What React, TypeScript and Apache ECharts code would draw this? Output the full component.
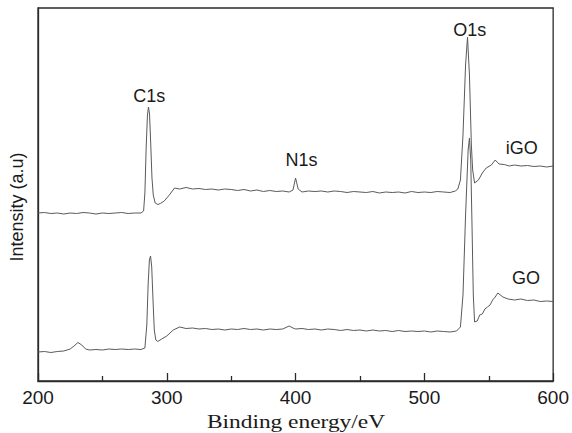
import React, { useEffect, useRef } from "react";
import * as echarts from "echarts";

// Binding energy (eV) and intensity (arbitrary units) for iGO
const igoEnergy = [
  200, 205, 210, 215, 220, 225, 230, 235, 240, 245, 250, 255, 260, 265, 270, 275, 280, 282, 283, 284,
  285, 285.8, 286.6, 287.5, 288.5, 289.5, 291, 293, 295, 298, 302, 306, 310, 315, 320, 325, 330, 335, 340, 345,
  350, 355, 360, 365, 370, 375, 380, 385, 390, 395, 398, 400, 402, 405, 410, 415, 420, 425, 430, 435,
  440, 445, 450, 455, 460, 465, 470, 475, 480, 485, 490, 495, 500, 505, 510, 515, 520, 524, 526, 528,
  530, 532, 533.5, 535, 536.5, 537.5, 539, 542, 545, 548, 552, 555, 558, 562, 566, 570, 575, 580, 585, 590,
  595, 600,
];
const igoIntensity = [
  172, 172.5, 171.5, 172, 171, 172, 171.5, 172.5, 172, 171, 172, 171.5, 172, 172.5, 171.5, 172, 172, 174, 192, 238,
  270, 278, 271, 242, 207, 190, 182, 180.5, 181.5, 184, 190, 197, 196, 197.5, 196, 196.5, 195.5, 196, 195, 196,
  195.5, 194.5, 195.5, 194, 195, 193.5, 194.5, 193.5, 194, 193, 195, 207, 196, 193, 194, 193.5, 194, 193, 194, 193.5,
  192.5, 193.5, 193, 192.5, 193.5, 192, 193, 192.5, 193, 192, 193.5, 192.5, 193, 192.5, 193.5, 193, 192.5, 194, 196, 205,
  250, 320, 348, 310, 240, 215, 202, 205, 212, 217, 220, 225, 221, 220.5, 219, 220, 219, 219.5, 218.5, 219,
  218, 219,
];

// Binding energy (eV) and intensity (arbitrary units) for GO
const goEnergy = [
  200, 205, 210, 215, 220, 225, 228, 231, 234, 237, 240, 245, 250, 255, 260, 265, 270, 275, 280, 283,
  284.5, 285.5, 286.5, 287.4, 288.3, 289.3, 290.3, 291.5, 293, 296, 300, 305, 310, 315, 320, 325, 330, 335, 340, 345,
  350, 355, 360, 365, 370, 375, 380, 385, 390, 395, 398, 400, 405, 410, 415, 420, 425, 430, 435, 440,
  445, 450, 455, 460, 465, 470, 475, 480, 485, 490, 495, 500, 505, 510, 515, 520, 525, 528, 530, 532,
  534, 535, 536, 537, 538, 539, 541, 543, 545, 547, 549, 551, 553, 555, 557, 561, 565, 570, 575, 580,
  585, 590, 595, 600,
];
const goIntensity = [
  33, 33.5, 32.5, 33.5, 34, 36, 39, 42.5, 40, 36, 35, 35.5, 35, 36, 35.5, 36, 35.5, 36, 35.5, 37,
  60, 100, 125, 129, 118, 85, 55, 45, 43.5, 46, 49, 55, 58, 56.5, 57, 56, 56.5, 55.5, 56, 55,
  56, 55.5, 56.5, 55.5, 56, 55, 56, 55.5, 56, 59, 57, 56, 56.5, 55.5, 56, 55, 56, 55.5, 54.5, 55.5,
  54.5, 55, 54, 55, 54, 54.5, 53.5, 54.5, 53.5, 54, 53.5, 54, 53, 54, 53.5, 53, 54, 58, 90, 170,
  235, 247, 225, 160, 90, 63, 64, 70, 71, 76, 78, 80, 85, 88, 92, 88, 86, 85, 86, 84.5,
  85, 83.5, 84, 83.5,
];

// Peak / curve annotations: [label, energy, intensity]
const igoLabels: [string, number, number][] = [
  ["C1s", 286.3, 289],
  ["N1s", 404.6, 225],
  ["O1s", 535.3, 355],
  ["iGO", 575.6, 237],
];
const goLabels: [string, number, number][] = [["GO", 579, 107]];

const xTicks = [200, 300, 400, 500, 600];

const lineColor = "#5a5a5a";
const axisColor = "#2a2a2a";
const sansFont = "'Liberation Sans', Arial, sans-serif";

function toPairs(xs: number[], ys: number[]) {
  return xs.map((x, i) => [x, ys[i]]);
}

function marks(labels: [string, number, number][]) {
  return {
    symbol: "circle",
    symbolSize: 0,
    silent: true,
    label: {
      show: true,
      position: "inside",
      color: "#1a1a1a",
      fontSize: 18,
      fontFamily: sansFont,
      formatter: (p: any) => p.name,
    },
    data: labels.map(([name, x, y]) => ({ name, coord: [x, y] })),
  };
}

export default function App() {
  const ref = useRef<HTMLDivElement>(null);
  useEffect(() => {
    document.body.style.margin = "0";
    if (!ref.current) return;
    const chart = echarts.init(ref.current, undefined, { renderer: "svg" });
    chart.setOption({
      animation: false,
      backgroundColor: "#ffffff",
      grid: {
        left: 38,
        right: 18,
        top: 8,
        bottom: 52,
        show: true,
        borderColor: axisColor,
        borderWidth: 1.3,
        backgroundColor: "transparent",
      },
      xAxis: {
        type: "value",
        min: xTicks[0],
        max: xTicks[xTicks.length - 1],
        interval: 100,
        axisLine: { show: true, lineStyle: { color: axisColor, width: 1.3 } },
        axisTick: { show: true, inside: true, length: 8, lineStyle: { color: axisColor, width: 1.3 } },
        minorTick: { show: true, splitNumber: 2, length: 5, lineStyle: { color: axisColor, width: 1.3 } },
        splitLine: { show: false },
        axisLabel: { fontSize: 19, color: "#1a1a1a", fontFamily: sansFont, margin: 7 },
      },
      yAxis: {
        type: "value",
        min: 4,
        max: 377,
        axisLine: { show: true, lineStyle: { color: axisColor, width: 1.3 } },
        axisTick: { show: false },
        axisLabel: { show: false },
        splitLine: { show: false },
      },
      graphic: [
        {
          type: "text",
          x: 17,
          y: 207,
          rotation: Math.PI / 2,
          style: {
            text: "Intensity (a.u)",
            fontSize: 18,
            fontFamily: sansFont,
            fill: "#1a1a1a",
            align: "center",
            verticalAlign: "middle",
          },
        },
        {
          type: "text",
          x: 296,
          y: 422,
          scaleX: 1.3,
          style: {
            text: "Binding energy/eV",
            fontSize: 18,
            fontFamily: "'Liberation Serif', 'Times New Roman', serif",
            fill: "#1a1a1a",
            align: "center",
            verticalAlign: "middle",
          },
        },
      ],
      series: [
        {
          name: "iGO",
          type: "line",
          showSymbol: false,
          data: toPairs(igoEnergy, igoIntensity),
          lineStyle: { color: lineColor, width: 1 },
          markPoint: marks(igoLabels),
        },
        {
          name: "GO",
          type: "line",
          showSymbol: false,
          data: toPairs(goEnergy, goIntensity),
          lineStyle: { color: lineColor, width: 1 },
          markPoint: marks(goLabels),
        },
      ],
    });
    return () => chart.dispose();
  }, []);
  return <div ref={ref} style={{ width: 572, height: 433 }} />;
}
